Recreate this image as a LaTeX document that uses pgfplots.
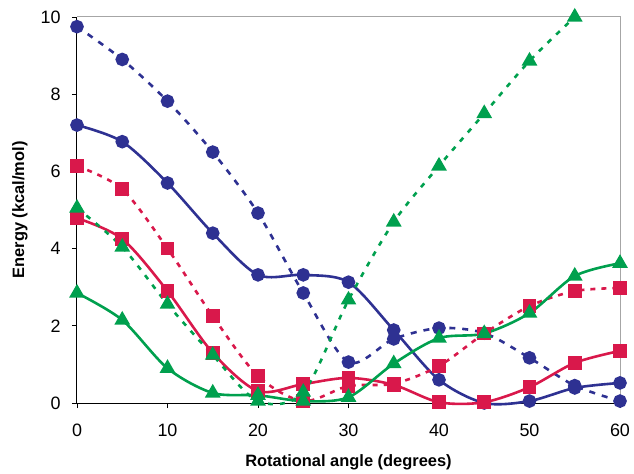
\documentclass[border=0pt]{standalone}
\usepackage{fontspec}
\setmainfont{Liberation Sans}
\usepackage{pgfplots}
\pgfplotsset{compat=1.18}

\definecolor{cblue}{HTML}{2E3192}
\definecolor{cred}{HTML}{D9184B}
\definecolor{cgreen}{HTML}{00A04E}

\begin{document}
\begin{tikzpicture}
\begin{axis}[
  width=543bp, height=386bp, scale only axis,
  xmin=0, xmax=60, ymin=0, ymax=10,
  xtick={0,10,...,60}, ytick={0,2,...,10},
  axis x line*=bottom, axis y line*=left,
  axis line style={black, line width=1bp},
  tick align=outside, major tick length=5bp,
  tick style={black, line width=0.8bp},
  /pgf/number format/assume math mode=true,
  ticklabel style={font=\fontsize{18}{20}\selectfont},
  xticklabel style={yshift=-12bp},
  yticklabel style={xshift=-8bp},
  label style={font=\fontsize{16.5}{18}\selectfont\bfseries},
  xlabel={Rotational angle (degrees)},
  ylabel={Energy (kcal/mol)},
  xlabel style={at={(axis description cs:0.5,0)}, anchor=center, yshift=-59bp},
  ylabel style={at={(axis description cs:0,0.5)}, anchor=center, yshift=57bp},
  clip=false,
  every axis plot/.append style={smooth, tension=0.5, line width=2.6bp},
]
\draw[gray!70, line width=1bp] (rel axis cs:0,1) -- (rel axis cs:1,1) -- (rel axis cs:1,0);
% page margins as in the reference
\path (rel axis cs:0,1) ++(-77bp,17bp);
\path (rel axis cs:1,0) ++(14bp,-69bp);

% blue dashed, circles
\addplot[cblue, dash pattern=on 6bp off 7bp, mark=*, mark size=5.5bp, mark options={solid}] coordinates {
(0,9.75)(5,8.9)(10,7.82)(15,6.5)(20,4.92)(25,2.85)(30,1.06)(35,1.66)(40,1.94)(45,1.81)(50,1.17)(55,0.45)(60,0.05)};
% blue solid, circles
\addplot[cblue, mark=*, mark size=5.5bp] coordinates {
(0,7.2)(5,6.77)(10,5.7)(15,4.4)(20,3.32)(25,3.32)(30,3.13)(35,1.89)(40,0.6)(45,0.0)(50,0.05)(55,0.39)(60,0.52)};
% red dashed, squares
\addplot[cred, dash pattern=on 5bp off 6bp, mark=square*, mark size=5.5bp, mark options={solid}] coordinates {
(0,6.14)(5,5.54)(10,4.0)(15,2.25)(20,0.7)(25,0.05)(30,0.44)(35,0.5)(40,0.96)(45,1.8)(50,2.51)(55,2.9)(60,2.98)};
% red solid, squares
\addplot[cred, mark=square*, mark size=5.5bp] coordinates {
(0,4.79)(5,4.25)(10,2.9)(15,1.3)(20,0.31)(25,0.49)(30,0.65)(35,0.47)(40,0.02)(45,0.02)(50,0.41)(55,1.04)(60,1.35)};
% green dashed, triangles
\addplot[cgreen, dash pattern=on 5bp off 7bp, mark=triangle*, mark size=6.5bp, mark options={solid}] coordinates {
(0,5.05)(5,4.04)(10,2.56)(15,1.24)(20,0.05)(25,0.28)(30,2.67)(35,4.69)(40,6.14)(45,7.5)(50,8.86)(55,10.0)};
% green solid, triangles
\addplot[cgreen, mark=triangle*, mark size=6.5bp] coordinates {
(0,2.85)(5,2.15)(10,0.9)(15,0.26)(20,0.2)(25,0.05)(30,0.15)(35,1.02)(40,1.68)(45,1.8)(50,2.33)(55,3.29)(60,3.62)};
\end{axis}
\end{tikzpicture}
\end{document}
